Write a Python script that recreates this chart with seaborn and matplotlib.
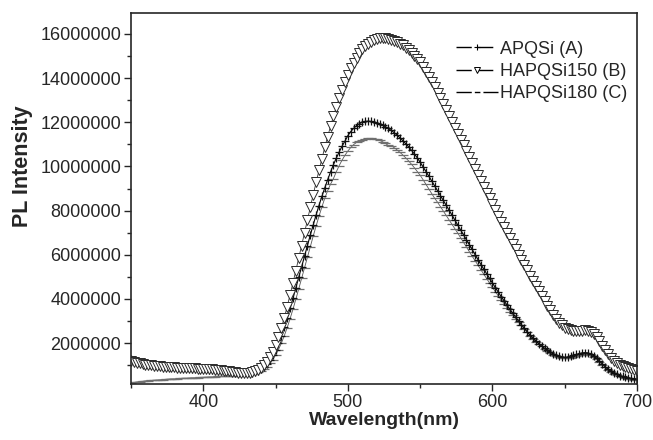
import numpy as np
import pandas as pd
import matplotlib
matplotlib.use("Agg")
import matplotlib.pyplot as plt
import seaborn as sns
from matplotlib.lines import Line2D
from matplotlib.ticker import MultipleLocator

# wavelength grid (nm), 2 nm steps from 350 to 700
wavelength = np.arange(350, 701, 2)

# PL intensity in millions
apqsi_a = [
    1.30, 1.25, 1.20, 1.16, 1.12, 1.09, 1.06, 1.03, 1.01, 0.99,   # 350-368
    0.97, 0.96, 0.94, 0.93, 0.92, 0.91, 0.90, 0.89, 0.88, 0.87,   # 370-388
    0.86, 0.85, 0.84, 0.84, 0.83, 0.82, 0.81, 0.80, 0.79, 0.78,   # 390-408
    0.76, 0.75, 0.73, 0.72, 0.70, 0.69, 0.67, 0.66, 0.65, 0.64,   # 410-428
    0.64, 0.65, 0.67, 0.70, 0.76, 0.84, 0.94, 1.07, 1.24, 1.45,   # 430-448
    1.70, 2.00, 2.34, 2.72, 3.13, 3.57, 4.03, 4.50, 4.98, 5.46,   # 450-468
    5.94, 6.42, 6.89, 7.35, 7.80, 8.23, 8.64, 9.03, 9.40, 9.75,   # 470-488
    10.08, 10.38, 10.66, 10.92, 11.15, 11.40, 11.58, 11.73, 11.85, 11.94,  # 490-508
    12.00, 12.04, 12.05, 12.04, 12.01, 11.96, 11.92, 11.86, 11.80, 11.72,  # 510-528
    11.63, 11.53, 11.42, 11.30, 11.17, 11.03, 10.89, 10.73, 10.57, 10.39,  # 530-548
    10.19, 9.98, 9.77, 9.56, 9.34, 9.12, 8.90, 8.68, 8.46, 8.24,  # 550-568
    8.02, 7.80, 7.57, 7.35, 7.12, 6.90, 6.68, 6.46, 6.24, 6.00,   # 570-588
    5.78, 5.56, 5.35, 5.14, 4.93, 4.72, 4.51, 4.31, 4.11, 3.92,   # 590-608
    3.73, 3.54, 3.36, 3.18, 3.01, 2.84, 2.68, 2.52, 2.37, 2.22,   # 610-628
    2.10, 1.98, 1.87, 1.77, 1.67, 1.59, 1.51, 1.45, 1.40, 1.37,   # 630-648
    1.36, 1.37, 1.40, 1.44, 1.49, 1.53, 1.56, 1.57, 1.56, 1.51,   # 650-668
    1.43, 1.32, 1.19, 1.06, 0.93, 0.82, 0.72, 0.64, 0.58, 0.53,   # 670-688
    0.49, 0.46, 0.43, 0.41, 0.39, 0.37,                           # 690-700
]
hapqsi150_b = [
    1.20, 1.16, 1.12, 1.09, 1.06, 1.03, 1.01, 0.99, 0.97, 0.96,   # 350-368
    0.95, 0.94, 0.93, 0.92, 0.91, 0.90, 0.89, 0.89, 0.88, 0.87,   # 370-388
    0.87, 0.86, 0.86, 0.85, 0.85, 0.84, 0.83, 0.82, 0.81, 0.80,   # 390-408
    0.78, 0.77, 0.75, 0.74, 0.72, 0.70, 0.69, 0.67, 0.66, 0.65,   # 410-428
    0.65, 0.66, 0.68, 0.72, 0.79, 0.88, 1.00, 1.16, 1.36, 1.62,   # 430-448
    1.92, 2.28, 2.70, 3.15, 3.65, 4.18, 4.72, 5.28, 5.85, 6.42,   # 450-468
    7.00, 7.58, 8.15, 8.72, 9.28, 9.82, 10.35, 10.86, 11.35, 11.82,  # 470-488
    12.27, 12.70, 13.10, 13.48, 13.83, 14.15, 14.44, 14.70, 14.93, 15.13,  # 490-508
    15.30, 15.44, 15.56, 15.65, 15.72, 15.77, 15.80, 15.81, 15.80, 15.77,  # 510-528
    15.72, 15.68, 15.62, 15.56, 15.48, 15.38, 15.27, 15.15, 15.01, 14.86,  # 530-548
    14.72, 14.51, 14.29, 14.06, 13.82, 13.58, 13.33, 13.08, 12.82, 12.56,  # 550-568
    12.30, 12.03, 11.76, 11.49, 11.22, 10.95, 10.68, 10.41, 10.14, 9.87,   # 570-588
    9.60, 9.34, 9.08, 8.82, 8.55, 8.28, 8.02, 7.76, 7.50, 7.24,   # 590-608
    6.99, 6.74, 6.49, 6.25, 6.01, 5.77, 5.53, 5.30, 5.06, 4.82,   # 610-628
    4.59, 4.36, 4.14, 3.92, 3.70, 3.49, 3.29, 3.10, 2.93, 2.80,   # 630-648
    2.70, 2.63, 2.58, 2.55, 2.54, 2.55, 2.57, 2.58, 2.57, 2.52,   # 650-668
    2.42, 2.27, 2.09, 1.89, 1.69, 1.50, 1.34, 1.21, 1.11, 1.03,   # 670-688
    0.97, 0.92, 0.87, 0.83, 0.79, 0.75,                           # 690-700
]
hapqsi180_c = [
    0.20, 0.22, 0.24, 0.26, 0.27, 0.29, 0.30, 0.31, 0.32, 0.33,   # 350-368
    0.34, 0.35, 0.36, 0.37, 0.38, 0.38, 0.39, 0.40, 0.41, 0.41,   # 370-388
    0.42, 0.43, 0.43, 0.44, 0.45, 0.45, 0.46, 0.47, 0.47, 0.48,   # 390-408
    0.49, 0.49, 0.50, 0.51, 0.51, 0.52, 0.53, 0.54, 0.55, 0.56,   # 410-428
    0.57, 0.59, 0.61, 0.64, 0.69, 0.75, 0.83, 0.94, 1.08, 1.25,   # 430-448
    1.46, 1.71, 2.00, 2.33, 2.70, 3.10, 3.53, 3.98, 4.45, 4.93,   # 450-468
    5.41, 5.89, 6.37, 6.84, 7.30, 7.74, 8.16, 8.56, 8.90, 9.20,   # 470-488
    9.45, 9.76, 10.04, 10.29, 10.51, 10.70, 10.86, 10.99, 11.09, 11.17,  # 490-508
    11.22, 11.25, 11.27, 11.27, 11.26, 11.23, 11.18, 11.12, 11.04, 10.95,  # 510-528
    10.94, 10.85, 10.75, 10.64, 10.52, 10.39, 10.25, 10.10, 9.94, 9.77,   # 530-548
    9.60, 9.40, 9.19, 8.98, 8.77, 8.56, 8.38, 8.18, 7.98, 7.78,   # 550-568
    7.58, 7.38, 7.18, 6.98, 6.77, 6.56, 6.35, 6.14, 5.93, 5.73,   # 570-588
    5.53, 5.32, 5.12, 4.92, 4.72, 4.52, 4.33, 4.14, 3.96, 3.79,   # 590-608
    3.61, 3.43, 3.27, 3.11, 2.95, 2.80, 2.64, 2.49, 2.34, 2.19,   # 610-628
    2.07, 1.96, 1.85, 1.75, 1.65, 1.56, 1.48, 1.41, 1.36, 1.33,   # 630-648
    1.31, 1.31, 1.33, 1.37, 1.41, 1.45, 1.48, 1.49, 1.48, 1.44,   # 650-668
    1.37, 1.27, 1.15, 1.02, 0.90, 0.79, 0.69, 0.61, 0.54, 0.49,   # 670-688
    0.45, 0.41, 0.38, 0.36, 0.34, 0.32,                           # 690-700
]

labels = ["APQSi (A)", "HAPQSi150 (B)", "HAPQSi180 (C)"]

sns.set_style("ticks")
plt.rcParams["font.family"] = ["Liberation Sans", "DejaVu Sans"]

df = pd.DataFrame({"Wavelength": wavelength,
                   "A": np.array(apqsi_a) * 1e6,
                   "B": np.array(hapqsi150_b) * 1e6,
                   "C": np.array(hapqsi180_c) * 1e6})

fig = plt.figure(figsize=(6.53, 4.40), dpi=100)
ax = fig.add_axes([0.2006, 0.1273, 0.775, 0.8432])

sns.lineplot(data=df, x="Wavelength", y="C", ax=ax, color="#555555", lw=0.6,
             marker="_", ms=7, mew=0.9, mec="#6f6f6f")
sns.lineplot(data=df, x="Wavelength", y="A", ax=ax, color="black", lw=0.8,
             marker="+", ms=6, mew=0.9, mec="#111111")
sns.lineplot(data=df, x="Wavelength", y="B", ax=ax, color="#333333", lw=0.6,
             marker="v", ms=6.5, mew=0.7, mfc="white", mec="#2a2a2a")

ax.set_xlim(350, 700)
ax.set_ylim(150000, 16950000)
ax.xaxis.set_major_locator(MultipleLocator(100))
ax.xaxis.set_minor_locator(MultipleLocator(50))
ax.set_yticks([2000000 * i for i in range(1, 9)])
ax.yaxis.set_minor_locator(MultipleLocator(1000000))
ax.ticklabel_format(axis="y", style="plain", useOffset=False)
ax.tick_params(which="major", direction="out", length=5, width=1, pad=2, labelsize=13)
ax.tick_params(which="minor", direction="out", length=3, width=1)
for s in ax.spines.values():
    s.set_linewidth(1.2)

ax.set_xlabel("Wavelength(nm)", fontsize=14, fontweight="bold")
ax.xaxis.set_label_coords(0.5, -0.075)
ax.set_ylabel("PL Intensity", fontsize=15.5, fontweight="bold")
ax.yaxis.set_label_coords(-0.194, 0.588)

# Origin-style legend keys: line broken around the symbol
handles = [
    Line2D([], [], color="black", lw=1, dashes=(11, 4.5, 11, 60), marker="+", ms=5, mew=0.8),
    Line2D([], [], color="black", lw=1, dashes=(11, 4.5, 11, 60), marker="v", ms=5, mew=0.7,
           mfc="white"),
    Line2D([], [], color="black", lw=1, dashes=(11, 2.2, 4, 2.2, 11, 60)),
]
ax.legend(handles, labels, loc="upper left", bbox_to_anchor=(0.643, 0.925), frameon=False,
          fontsize=13, handlelength=2.3, handletextpad=0.1, labelspacing=0.28,
          borderpad=0, borderaxespad=0)

fig.savefig("out.png", dpi=100)
